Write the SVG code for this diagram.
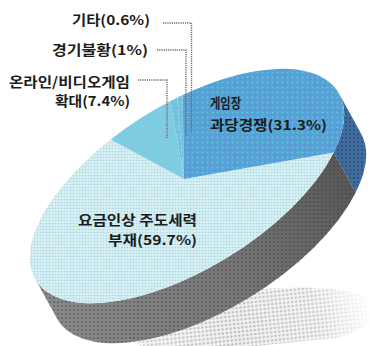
<svg xmlns="http://www.w3.org/2000/svg" width="369" height="346" viewBox="0 0 369 346">
  <style>
    .lbl { font-family: "Noto Sans CJK KR", "Noto Sans", sans-serif; font-weight: bold; font-size: 13.5px; fill: #1c1c1c; }
    .lead { fill: none; stroke: #6a6a6a; stroke-width: 1.4; stroke-dasharray: 1.2 1; }
  </style>
  <defs>
    <pattern id="pLight" patternUnits="userSpaceOnUse" width="3" height="3">
      <rect width="3" height="3" fill="#d6eff3"/>
      <circle cx="1.5" cy="1.5" r="0.8" fill="#a9d6e4"/>
    </pattern>
    <pattern id="pMid" patternUnits="userSpaceOnUse" width="4" height="4">
      <rect width="4" height="4" fill="#86c8df"/>
      <circle cx="2" cy="2" r="0.9" fill="#5fe0e6"/>
    </pattern>
    <pattern id="pMid2" patternUnits="userSpaceOnUse" width="4" height="4">
      <rect width="4" height="4" fill="#78bde0"/>
      <circle cx="2" cy="2" r="0.9" fill="#5fe0e6"/>
    </pattern>
    <pattern id="pBlue" patternUnits="userSpaceOnUse" width="5" height="5">
      <rect width="5" height="5" fill="#5a9ed6"/>
      <circle cx="2.5" cy="2.5" r="1" fill="#4cd2d8"/>
    </pattern>
    <pattern id="pNavy" patternUnits="userSpaceOnUse" width="4" height="4">
      <rect width="4" height="4" fill="#416d9e"/>
      <circle cx="2" cy="2" r="1" fill="#2c4a7a"/>
    </pattern>
    <pattern id="pDark" patternUnits="userSpaceOnUse" width="4" height="4">
      <circle cx="2" cy="2" r="1" fill="#333" fill-opacity="0.45"/>
    </pattern>
    <pattern id="pShadow" patternUnits="userSpaceOnUse" width="4" height="4">
      <rect width="4" height="4" fill="#f2f2f2"/>
      <circle cx="2" cy="2" r="1.3" fill="#bdbdbd"/>
    </pattern>
    <linearGradient id="gGray" x1="40" y1="300" x2="360" y2="160" gradientUnits="userSpaceOnUse">
      <stop offset="0" stop-color="#8a8a8a"/>
      <stop offset="0.55" stop-color="#767676"/>
      <stop offset="1" stop-color="#555555"/>
    </linearGradient>
    <radialGradient id="gShadowMask" cx="235" cy="330" r="140" gradientUnits="userSpaceOnUse">
      <stop offset="0" stop-color="#fff" stop-opacity="1"/>
      <stop offset="0.6" stop-color="#fff" stop-opacity="0.8"/>
      <stop offset="1" stop-color="#fff" stop-opacity="0"/>
    </radialGradient>
    <mask id="mShadow">
      <rect x="0" y="0" width="369" height="346" fill="url(#gShadowMask)"/>
    </mask>
  </defs>

  <g id="shadow">
    <ellipse cx="255" cy="322" rx="125" ry="32" transform="rotate(-6 255 322)" fill="url(#pShadow)" mask="url(#mShadow)"/>
  </g>

  <g id="pie-side">
    <path d="M339,93.5 A178,82 -32 0 1 333.7,152.5 L355.7,192.5 A178,82 -32 0 0 361,133.5 Z" fill="url(#pNavy)"/>
    <path d="M333.7,152.5 A178,82 -32 0 1 226.5,258 A178,82 -32 0 1 35,278.5 L57,318.5 A178,82 -32 0 0 248.5,298 A178,82 -32 0 0 355.7,192.5 Z" fill="url(#gGray)"/>
    <path d="M333.7,152.5 A178,82 -32 0 1 226.5,258 A178,82 -32 0 1 35,278.5 L57,318.5 A178,82 -32 0 0 248.5,298 A178,82 -32 0 0 355.7,192.5 Z" fill="url(#pDark)"/>
  </g>

  <g id="slice-59-7">
    <path d="M184,179 L333.7,152.5 A178,82 -32 1 1 110.7,139.5 Z" fill="url(#pLight)"/>
  </g>
  <g id="slice-7-4">
    <path d="M184,179 L110.7,139.5 A178,82 -32 0 1 170.4,101.1 Z" fill="url(#pMid)"/>
  </g>
  <g id="slice-1">
    <path d="M184,179 L170.4,101.1 A178,82 -32 0 1 177.2,97.7 Z" fill="url(#pMid2)"/>
  </g>
  <g id="slice-0-6">
    <path d="M184,179 L177.2,97.7 A178,82 -32 0 1 182.7,95.1 Z" fill="url(#pMid2)"/>
  </g>
  <g id="slice-31-3">
    <path d="M184,179 L182.7,95.1 A178,82 -32 0 1 333.7,152.5 Z" fill="url(#pBlue)"/>
  </g>

  <g id="connectors">
    <polyline class="lead" points="163,23 191.5,23 191.5,133"/>
    <polyline class="lead" points="157,50 186,50 186,136"/>
    <polyline class="lead" points="138,80 167,80 167,138"/>
  </g>

  <g id="label-0-6">
    <text class="lbl" x="72" y="25" textLength="78" lengthAdjust="spacingAndGlyphs">기타(0.6%)</text>
  </g>
  <g id="label-1">
    <text class="lbl" x="52" y="55" textLength="96" lengthAdjust="spacingAndGlyphs">경기불황(1%)</text>
  </g>
  <g id="label-7-4">
    <text class="lbl" x="9" y="87" textLength="121" lengthAdjust="spacingAndGlyphs">온라인/비디오게임</text>
    <text class="lbl" x="55" y="106" textLength="75" lengthAdjust="spacingAndGlyphs">확대(7.4%)</text>
  </g>
  <g id="label-31-3">
    <text class="lbl" x="210" y="108" textLength="31" lengthAdjust="spacingAndGlyphs">게임장</text>
    <text class="lbl" x="210" y="130" textLength="117" lengthAdjust="spacingAndGlyphs">과당경쟁(31.3%)</text>
  </g>
  <g id="label-59-7">
    <text class="lbl" x="78" y="225" textLength="119" lengthAdjust="spacingAndGlyphs">요금인상 주도세력</text>
    <text class="lbl" x="108" y="245" textLength="89" lengthAdjust="spacingAndGlyphs">부재(59.7%)</text>
  </g>
</svg>
